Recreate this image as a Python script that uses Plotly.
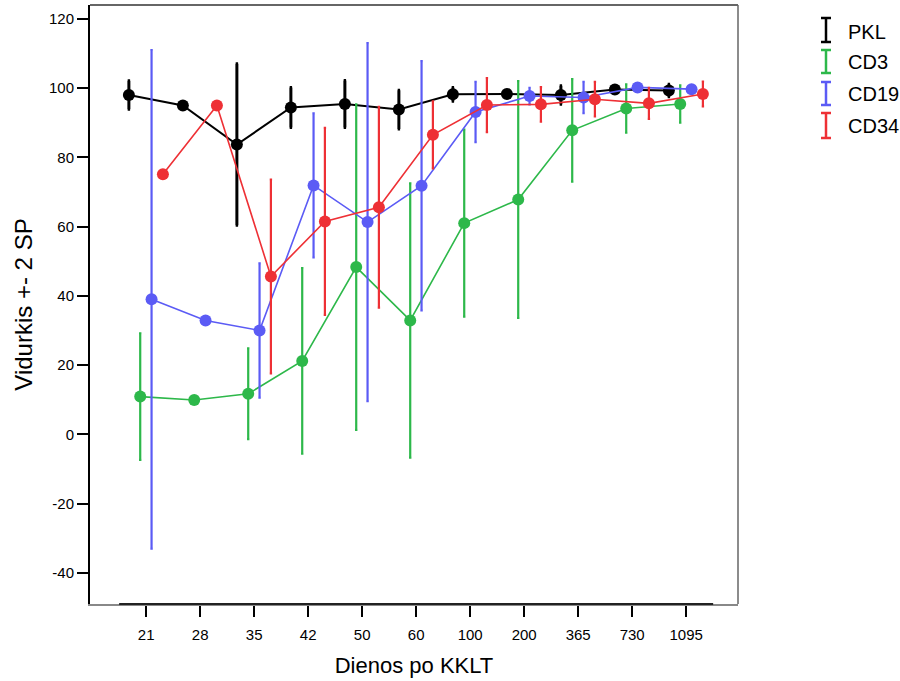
import plotly.graph_objects as go

categories = ["21", "28", "35", "42", "50", "60", "100", "200", "365", "730", "1095"]

series_names = ["PKL", "CD3", "CD19", "CD34"]
colors = ["#000000", "#2db84a", "#5b5bf5", "#ee3035"]
offsets = [-0.32, -0.11, 0.10, 0.31]

pkl_mean = [98.0, 95.0, 83.7, 94.4, 95.4, 93.8, 98.2, 98.3, 98.0, 99.6, 99.3]
pkl_err = [4.1, 0.0, 23.3, 5.8, 6.8, 5.6, 2.0, 1.0, 2.7, 1.0, 1.8]

cd3_mean = [10.9, 9.9, 11.7, 21.2, 48.3, 32.9, 61.0, 67.8, 87.8, 94.1, 95.4]
cd3_err = [18.3, 0.0, 13.1, 26.8, 47.0, 39.6, 27.0, 34.2, 14.8, 7.0, 5.4]

cd19_mean = [39.0, 32.9, 30.0, 71.9, 61.3, 71.8, 93.1, 97.7, 97.3, 100.2, 99.7]
cd19_err = [72.0, 0.0, 19.4, 20.8, 51.7, 36.0, 8.7, 2.4, 4.5, 0.5, 0.5]

cd34_mean = [75.1, 95.0, 45.6, 61.5, 65.6, 86.5, 95.1, 95.3, 96.8, 95.6, 98.3]
cd34_err = [0.0, 0.0, 28.0, 27.0, 29.0, 9.7, 7.8, 5.0, 5.0, 4.5, 3.6]

y_ticks = [-40, -20, 0, 20, 40, 60, 80, 100, 120]
y_tick_labels = ["-40", "-20", "0", "20", "40", "60", "80", "100", "120"]

means = [pkl_mean, cd3_mean, cd19_mean, cd34_mean]
errs = [pkl_err, cd3_err, cd19_err, cd34_err]

FONT = "Liberation Sans, Arial, Helvetica, sans-serif"

fig = go.Figure()
for name, col, off, m, e in zip(series_names, colors, offsets, means, errs):
    xs = [i + off for i in range(len(categories))]
    is_black = name == "PKL"
    fig.add_trace(go.Scatter(
        x=xs, y=m, name=name, mode="lines+markers",
        line=dict(color=col, width=2 if is_black else 1.6),
        marker=dict(color=col, size=12),
        error_y=dict(type="data", array=e, visible=True, color=col,
                     thickness=3 if is_black else 2.2, width=1.2),
        showlegend=False,
    ))

# plot area geometry (pixels)
L, R, T, B = 90, 738, 5, 604
W, H = 900, 681
pw, ph = R - L, B - T
def px(x):
    return (x - L) / pw
def py(y):
    return (B - y) / ph

ymin, ymax = -49, 124
xmin, xmax = -1.04, 10.96

shapes = []
shapes.append(dict(type="line", xref="paper", yref="paper", x0=0, x1=1, y0=1, y1=1,
                   line=dict(color="#333333", width=1.5)))
shapes.append(dict(type="line", xref="paper", yref="paper", x0=1, x1=1, y0=0, y1=1,
                   line=dict(color="#666666", width=1.5)))
shapes.append(dict(type="line", xref="x", yref="paper", x0=-0.5, x1=10.5, y0=0, y1=0,
                   line=dict(color="#222222", width=2)))

annotations = []
leg_rows = [(18, 42, 32), (50, 73, 62), (82, 105, 94), (113, 138, 126)]
for name, col, (y0, y1, yc) in zip(series_names, colors, leg_rows):
    xc = 826
    shapes.append(dict(type="line", xref="paper", yref="paper", x0=px(xc), x1=px(xc),
                       y0=py(y0), y1=py(y1), line=dict(color=col, width=2.5)))
    for yy in (y0, y1):
        shapes.append(dict(type="line", xref="paper", yref="paper", x0=px(xc - 5), x1=px(xc + 5),
                           y0=py(yy), y1=py(yy), line=dict(color=col, width=2.5)))
    annotations.append(dict(text=name, xref="paper", yref="paper", x=px(846), y=py(yc),
                            xanchor="left", yanchor="middle", showarrow=False,
                            font=dict(size=20, color="black", family=FONT)))

fig.update_layout(
    width=W, height=H,
    margin=dict(l=L, r=W - R, t=T, b=H - B),
    plot_bgcolor="white", paper_bgcolor="white",
    font=dict(family=FONT, color="black"),
    shapes=shapes, annotations=annotations,
    xaxis=dict(
        range=[xmin, xmax], tickmode="array", tickvals=list(range(len(categories))),
        ticktext=categories, showgrid=False, zeroline=False,
        showline=True, linecolor="#888888", linewidth=2,
        ticks="outside", ticklen=11, tickwidth=2, tickcolor="black",
        tickfont=dict(size=15), ticklabelstandoff=5,
        title=dict(text="Dienos po KKLT", font=dict(size=22), standoff=16),
    ),
    yaxis=dict(
        range=[ymin, ymax], tickmode="array", tickvals=y_ticks, ticktext=y_tick_labels,
        showgrid=False, zeroline=False,
        showline=True, linecolor="black", linewidth=2,
        ticks="outside", ticklen=11, tickwidth=2, tickcolor="black",
        tickfont=dict(size=15),
        title=dict(text="Vidurkis +- 2 SP", font=dict(size=24), standoff=10),
    ),
)

fig.write_html("out.html", config={"displayModeBar": False},
               post_script="document.body.style.margin='0';document.body.style.padding='0';")
